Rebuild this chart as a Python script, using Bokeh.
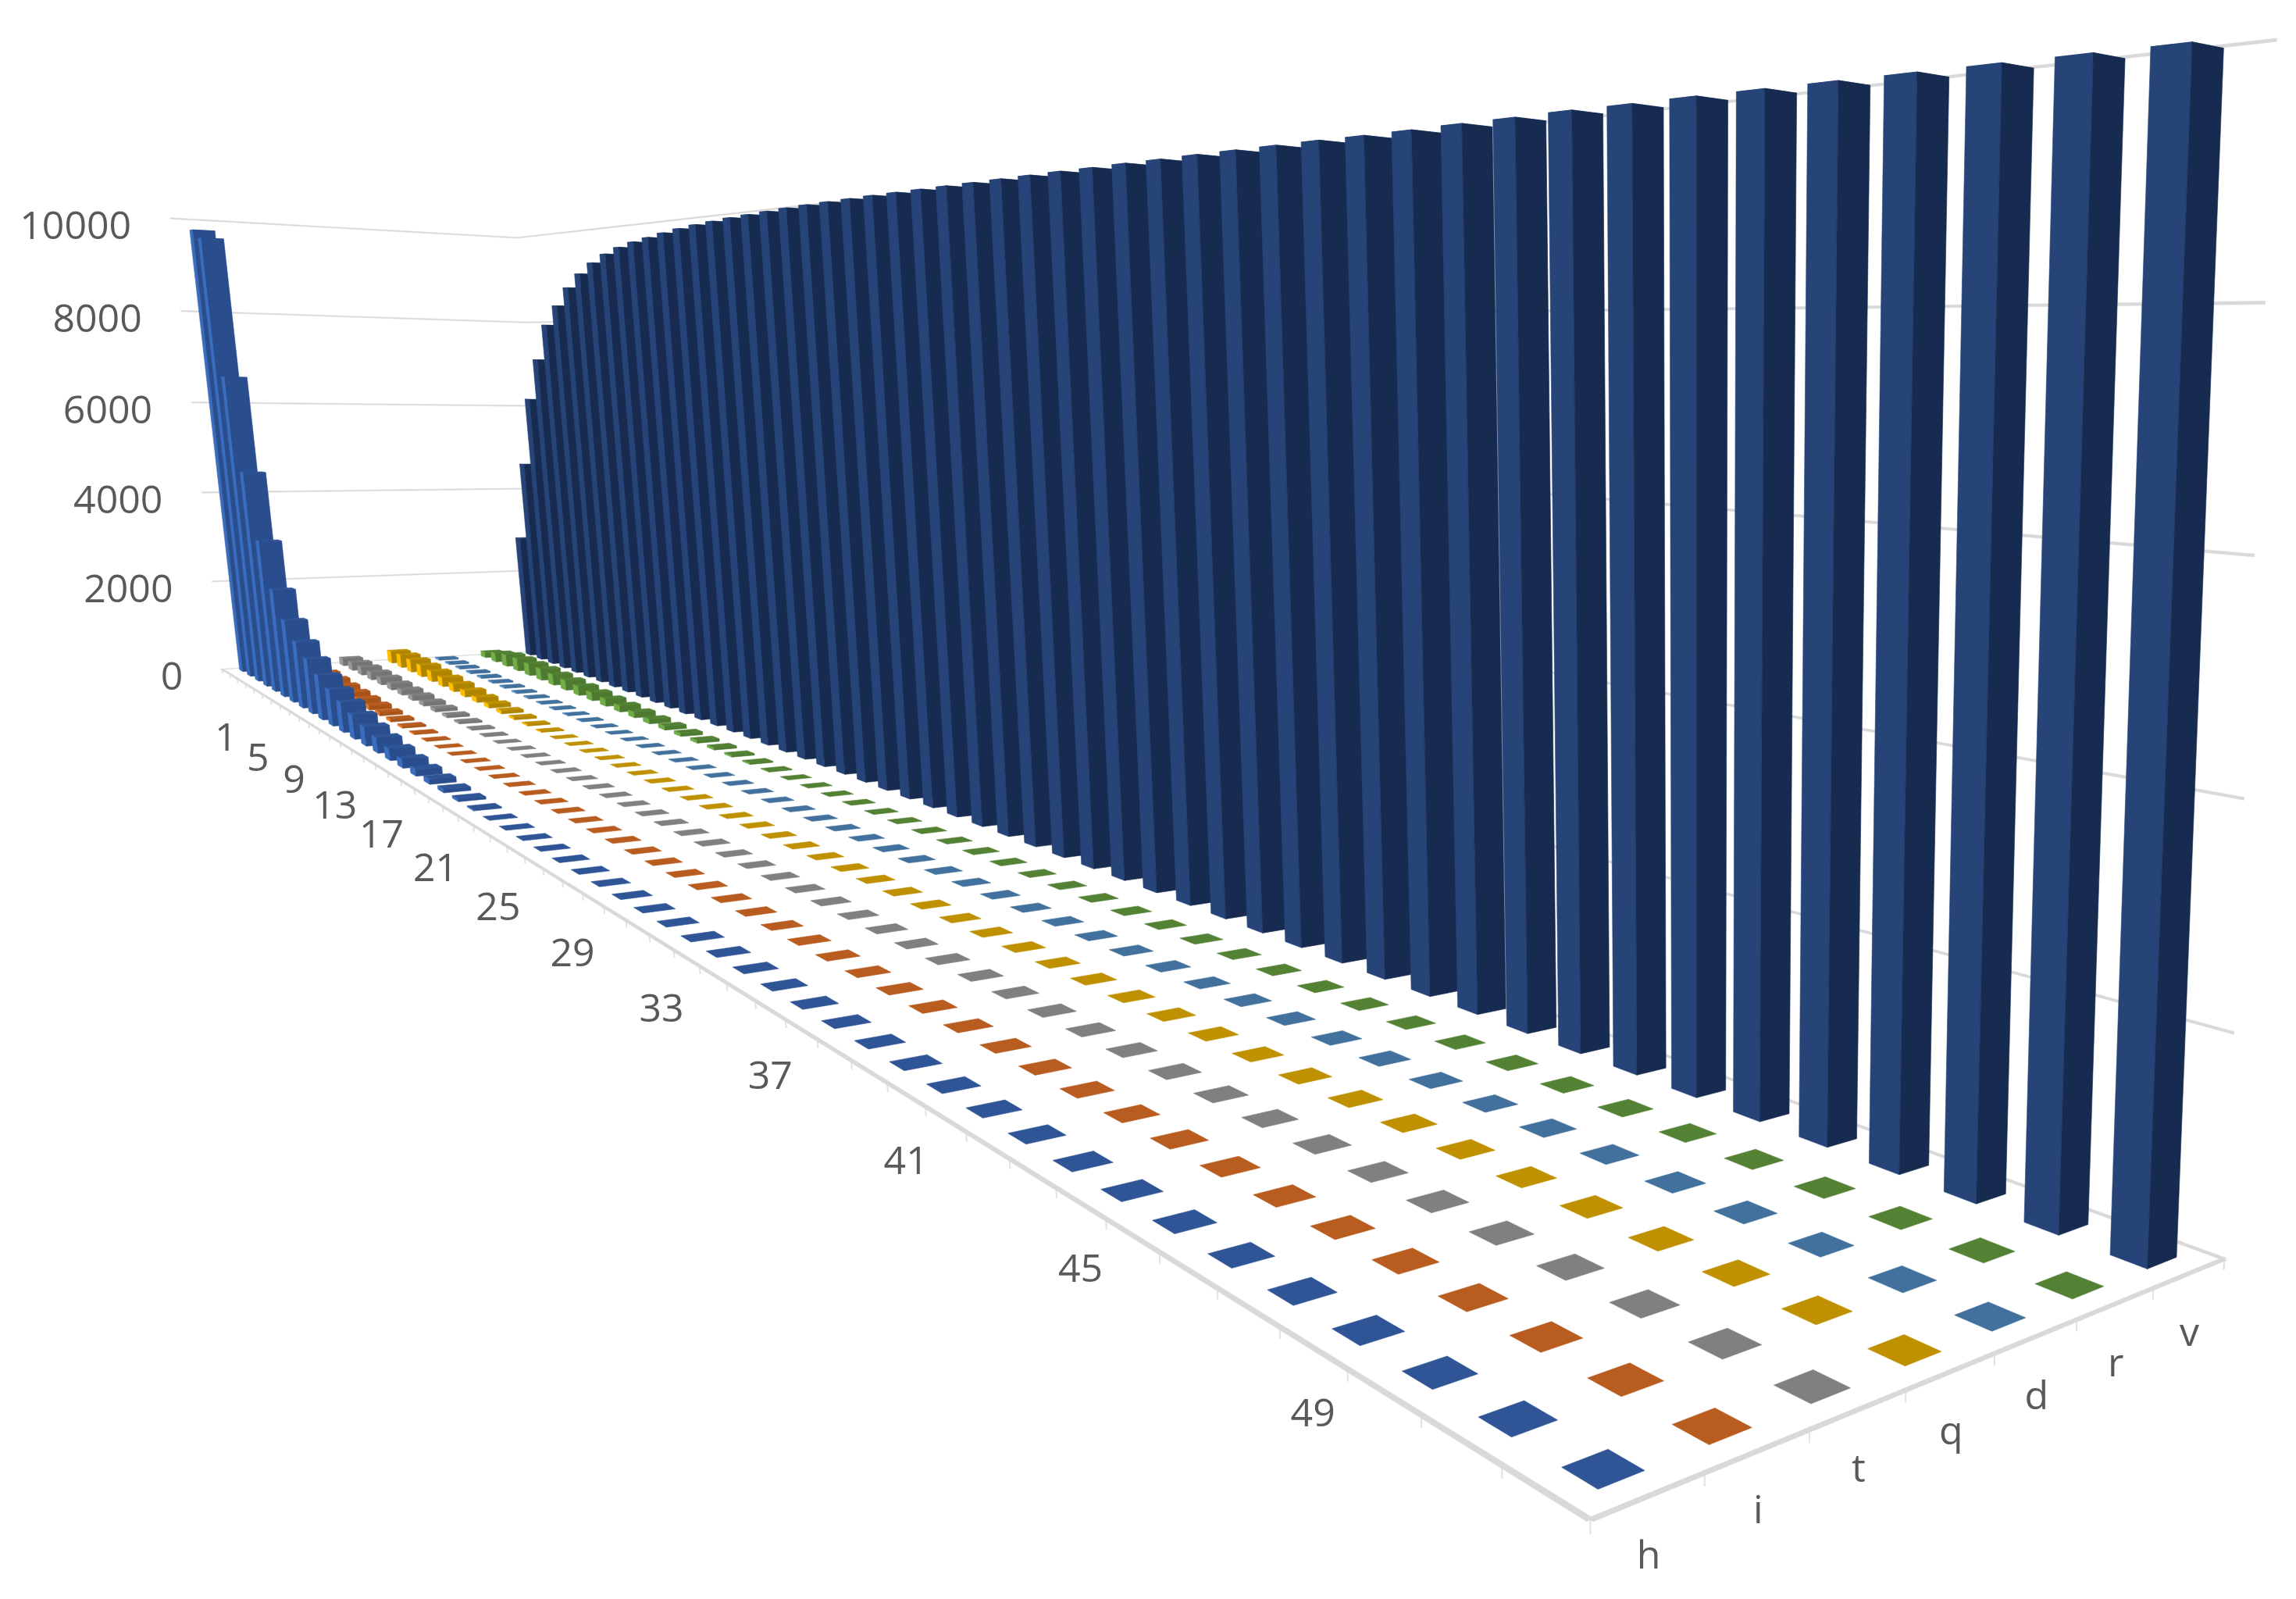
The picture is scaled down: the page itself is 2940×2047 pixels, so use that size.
import numpy as np
from bokeh.plotting import figure
from bokeh.models import ColumnDataSource
from bokeh.core.properties import value
from bokeh.embed import file_html
from bokeh.resources import INLINE

N_CATS = 52
series_names = ["h", "i", "t", "q", "d", "r", "v"]
cat_labels = list(range(1, N_CATS + 1, 4))
z_ticks = [0, 2000, 4000, 6000, 8000, 10000]

h = [9750, 9550, 6600, 4600, 3200, 2250, 1700, 1350, 1100, 880, 710, 580, 460, 360, 280, 210, 160, 120, 90, 60, 40, 20] + [0] * 30
i = [300, 280, 250, 220, 190, 160, 130, 110, 90, 70, 50, 35, 20, 10] + [0] * 38
t = [160, 170, 170, 160, 150, 130, 110, 95, 80, 65, 50, 35, 20, 10] + [0] * 38
q = [260, 280, 270, 250, 220, 190, 160, 130, 100, 80, 60, 40, 25, 10] + [0] * 38
d = [30, 30, 30, 30, 30, 25, 25, 20, 20, 15, 15, 10, 10, 5] + [0] * 38
r = [120, 200, 260, 270, 260, 250, 230, 210, 190, 170, 150, 130, 110, 90, 75, 60, 50, 40, 30, 20, 10] + [0] * 31
v = [2830, 4650, 6200, 7120, 7900, 8320, 8700, 8980, 9190, 9350,
     9460, 9540, 9600, 9660, 9710, 9750, 9780, 9810, 9830, 9850,
     9870, 9885, 9895, 9905, 9915, 9920, 9925, 9930, 9935, 9940,
     9945, 9950, 9950, 9955, 9955, 9960, 9960, 9960, 9960, 9955,
     9955, 9960, 9960, 9965, 9960, 9960, 9955, 9950, 9945, 9940,
     9935, 9930]
values = [h, i, t, q, d, r, v]

# face colours: top, series-side face, category-side face
palette = [
    ("#2F5597", "#3B6DBE", "#2A4D8D"),
    ("#B85C20", "#E87A2C", "#A85418"),
    ("#808080", "#9A9A9A", "#747474"),
    ("#BF9000", "#FFC000", "#AD8300"),
    ("#41719C", "#5B9BD5", "#3A6A96"),
    ("#548235", "#70AD47", "#4E7A30"),
    ("#203864", "#264478", "#172B50"),
]
GRID = "#D9D9D9"
TICK = "#E2E2E2"
TEXT = "#595959"
BAR = 0.205  # half width of a bar, in cell units

# perspective view: world point (category, series, value) -> page pixel
view_world = [(0, 0, 0), (0, 7, 0), (52, 7, 0), (52, 0, 0),
              (0, 0, 10000), (0, 7, 10000), (52, 7, 10000)]
view_page = [(284, 856), (725, 847), (2848, 1617), (2050, 1958),
             (232, 294), (663, 306), (2926, 57)]


def solve_view():
    rows, rhs = [], []
    for (X, Y, Z), (u, w) in zip(view_world, view_page):
        Z = Z / 10000
        rows.append([X, Y, Z, 1, 0, 0, 0, 0, -u * X, -u * Y, -u * Z])
        rhs.append(u)
        rows.append([0, 0, 0, 0, X, Y, Z, 1, -w * X, -w * Y, -w * Z])
        rhs.append(w)
    sol = np.linalg.lstsq(np.array(rows, float), np.array(rhs, float), rcond=None)[0]
    return np.append(sol, 1.0).reshape(3, 4)


VIEW = solve_view()


def proj(c, s, z):
    q_ = VIEW @ np.array([c, s, z / 10000, 1.0])
    return q_[0] / q_[2], q_[1] / q_[2]


xs, ys, cols = [], [], []


def poly(points, colour):
    pts = [proj(*pt) for pt in points]
    xs.append([a for a, _ in pts])
    ys.append([b for _, b in pts])
    cols.append(colour)


# wall gridlines
DZ = 12
for z in z_ticks[1:]:
    poly([(0, 0, z - DZ), (0, 7, z - DZ), (0, 7, z + DZ), (0, 0, z + DZ)], GRID)
    poly([(0, 7, z - DZ), (N_CATS, 7, z - DZ), (N_CATS, 7, z + DZ), (0, 7, z + DZ)], GRID)

# floor edges
E = 0.03
poly([(0, -E, 0), (N_CATS, -E, 0), (N_CATS, E, 0), (0, E, 0)], GRID)
poly([(N_CATS - E, 0, 0), (N_CATS - E, 7, 0), (N_CATS + E, 7, 0), (N_CATS + E, 0, 0)], GRID)
poly([(0, 7 - E, 0), (N_CATS, 7 - E, 0), (N_CATS, 7 + E, 0), (0, 7 + E, 0)], GRID)
poly([(-E, 0, 0), (-E, 7, 0), (E, 7, 0), (E, 0, 0)], GRID)

# bars, far to near
for s_idx in range(len(series_names) - 1, -1, -1):
    top_c, left_c, right_c = palette[s_idx]
    for k, val in enumerate(values[s_idx]):
        c0, c1 = k + 0.5 - BAR, k + 0.5 + BAR
        s0, s1 = s_idx + 0.5 - BAR, s_idx + 0.5 + BAR
        poly([(c0, s0, val), (c1, s0, val), (c1, s1, val), (c0, s1, val)], top_c)
        if val > 0:
            poly([(c0, s0, 0), (c1, s0, 0), (c1, s0, val), (c0, s0, val)], left_c)
            poly([(c1, s0, 0), (c1, s1, 0), (c1, s1, val), (c1, s0, val)], right_c)

p = figure(width=2924, height=2031, x_range=(8, 2932), y_range=(2039, 8),
           output_backend="svg", toolbar_location=None, min_border=0,
           background_fill_color="white", border_fill_color="white",
           outline_line_color=None)
p.xaxis.visible = False
p.yaxis.visible = False
p.grid.visible = False

# axis tick marks
tx, ty = [], []
for c in range(N_CATS + 1):
    a, b = proj(c, 0, 0), proj(c, 0, -100)
    tx.append([a[0], b[0]])
    ty.append([a[1], b[1]])
for s in range(1, len(series_names) + 1):
    a, b = proj(N_CATS, s, 0), proj(N_CATS, s, -100)
    tx.append([a[0], b[0]])
    ty.append([a[1], b[1]])
p.multi_line(tx, ty, line_color=TICK, line_width=2)

p.patches("x", "y", source=ColumnDataSource(dict(x=xs, y=ys, c=cols)),
          fill_color="c", line_color="c", line_width=0.6)

font = value("Open Sans")
zp = [proj(0, 0, z) for z in z_ticks]
p.text([a - 50 for a, _ in zp], [b + 9 for _, b in zp], text=[str(z) for z in z_ticks],
       text_font=font, text_font_size="50px", text_color=TEXT,
       text_align="right", text_baseline="middle")
cp = [proj(k - 0.5, 0, 0) for k in cat_labels]
p.text([a for a, _ in cp], [b + 84 for _, b in cp], text=[str(k) for k in cat_labels],
       text_font=font, text_font_size="50px", text_color=TEXT,
       text_align="center", text_baseline="middle")
sp = [proj(N_CATS, n + 0.5, 0) for n in range(len(series_names))]
p.text([a for a, _ in sp], [b + 74 for _, b in sp], text=series_names,
       text_font=font, text_font_size="50px", text_color=TEXT,
       text_align="center", text_baseline="middle")

open("out.html", "w").write(file_html(p, INLINE))
